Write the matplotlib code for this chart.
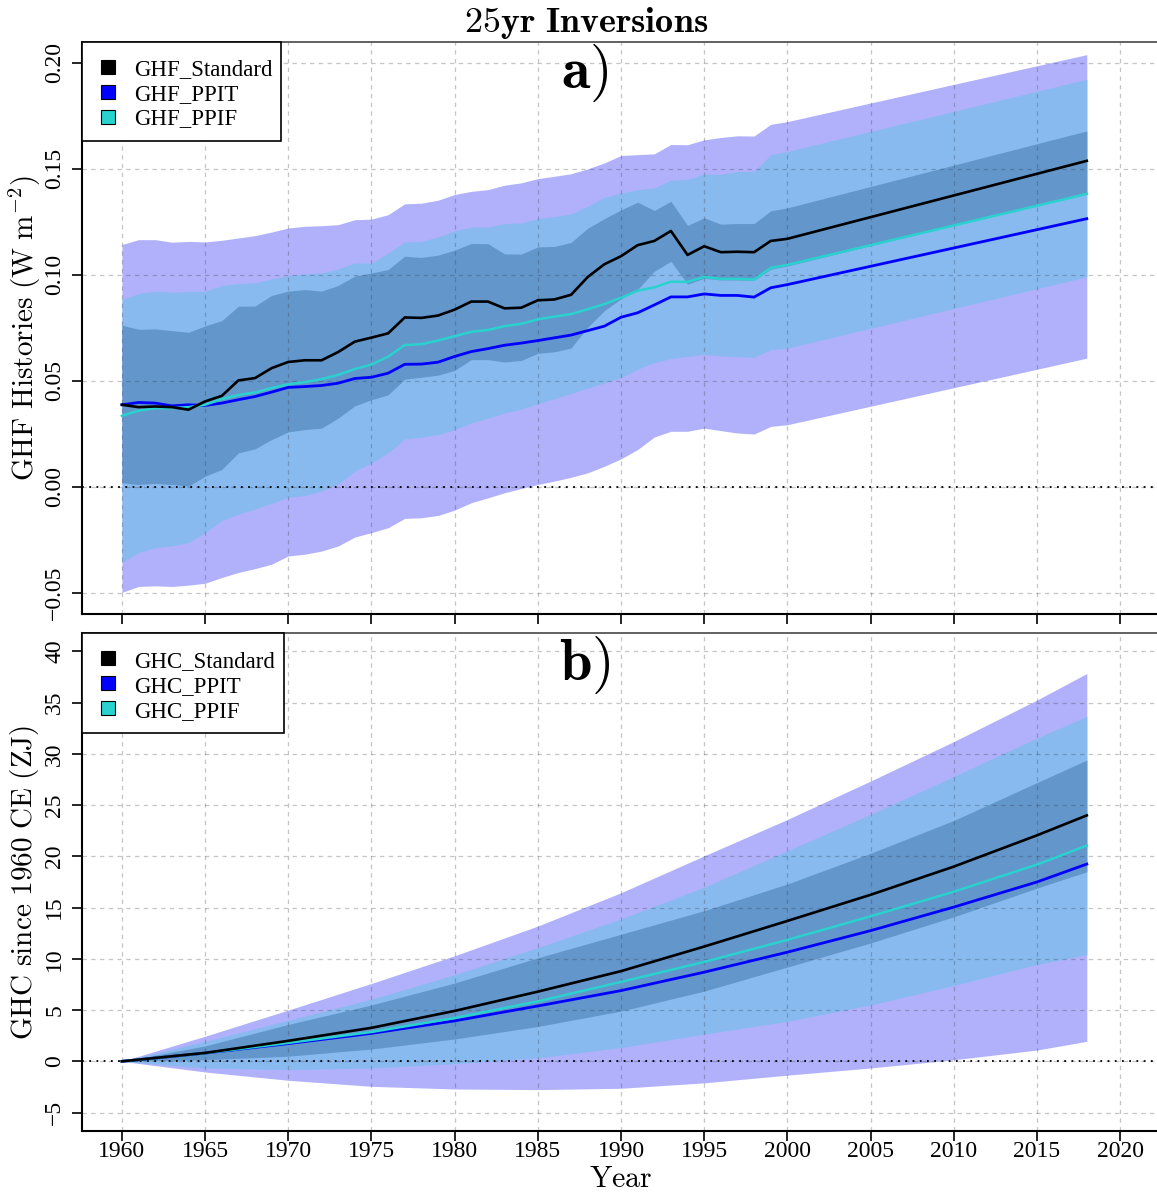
import matplotlib
matplotlib.use('Agg')
import matplotlib.pyplot as plt
from matplotlib.patches import Rectangle

plt.rcParams['mathtext.fontset'] = 'cm'
plt.rcParams['font.family'] = ['Liberation Serif', 'DejaVu Serif']

# ---------------- data: panel a (GHF histories, W m^-2) ----------------
years_a = list(range(1960, 2001)) + [2018]

ghf_standard = [0.0387, 0.0376, 0.0379, 0.0376, 0.0364, 0.0403, 0.0429, 0.0502, 0.0513, 0.0560,
                0.0589, 0.0597, 0.0597, 0.0636, 0.0685, 0.0704, 0.0724, 0.0799, 0.0797, 0.0808,
                0.0836, 0.0874, 0.0874, 0.0842, 0.0845, 0.0880, 0.0884, 0.0906, 0.0990, 0.1050,
                0.1088, 0.1140, 0.1160, 0.1207, 0.1094, 0.1135, 0.1107, 0.1109, 0.1107, 0.1160,
                0.1170, 0.1538]
ghf_ppif = [0.0335, 0.0359, 0.0371, 0.0371, 0.0376, 0.0387, 0.0414, 0.0433, 0.0445, 0.0466,
            0.0484, 0.0494, 0.0508, 0.0528, 0.0556, 0.0577, 0.0614, 0.0669, 0.0673, 0.0690,
            0.0711, 0.0731, 0.0740, 0.0758, 0.0769, 0.0790, 0.0803, 0.0815, 0.0838, 0.0862,
            0.0892, 0.0925, 0.0941, 0.0968, 0.0967, 0.0990, 0.0981, 0.0981, 0.0978, 0.1033,
            0.1047, 0.1382]
ghf_ppit = [0.0387, 0.0398, 0.0395, 0.0382, 0.0387, 0.0384, 0.0395, 0.0411, 0.0426, 0.0447,
            0.0469, 0.0473, 0.0478, 0.0489, 0.0511, 0.0517, 0.0536, 0.0578, 0.0579, 0.0588,
            0.0615, 0.0638, 0.0652, 0.0668, 0.0678, 0.0690, 0.0703, 0.0716, 0.0737, 0.0758,
            0.0800, 0.0821, 0.0858, 0.0896, 0.0896, 0.0910, 0.0903, 0.0903, 0.0895, 0.0939,
            0.0954, 0.1265]
ghf_outer_hi = [0.1143, 0.1166, 0.1166, 0.1154, 0.1158, 0.1155, 0.1163, 0.1174, 0.1185, 0.1202,
                0.1221, 0.1229, 0.1232, 0.1237, 0.1260, 0.1263, 0.1284, 0.1335, 0.1338, 0.1352,
                0.1379, 0.1394, 0.1402, 0.1423, 0.1434, 0.1454, 0.1465, 0.1477, 0.1500, 0.1528,
                0.1563, 0.1567, 0.1571, 0.1615, 0.1614, 0.1637, 0.1648, 0.1656, 0.1655, 0.1710,
                0.1723, 0.2039]
ghf_outer_lo = [-0.0498, -0.0470, -0.0467, -0.0470, -0.0464, -0.0455, -0.0428, -0.0404, -0.0386, -0.0365,
                -0.0326, -0.0318, -0.0303, -0.0279, -0.0237, -0.0216, -0.0193, -0.0149, -0.0146, -0.0135,
                -0.0110, -0.0075, -0.0052, -0.0028, -0.0008, 0.0011, 0.0027, 0.0045, 0.0066, 0.0097,
                0.0132, 0.0176, 0.0235, 0.0262, 0.0262, 0.0277, 0.0265, 0.0254, 0.0249, 0.0285,
                0.0293, 0.0607]
ghf_mid_hi = [0.0884, 0.0912, 0.0923, 0.0918, 0.0922, 0.0922, 0.0950, 0.0959, 0.0962, 0.0981,
              0.0997, 0.1005, 0.1009, 0.1028, 0.1056, 0.1056, 0.1103, 0.1155, 0.1158, 0.1179,
              0.1208, 0.1225, 0.1225, 0.1242, 0.1245, 0.1266, 0.1275, 0.1288, 0.1324, 0.1366,
              0.1386, 0.1402, 0.1410, 0.1447, 0.1450, 0.1476, 0.1474, 0.1488, 0.1488, 0.1567,
              0.1582, 0.1923]
ghf_mid_lo = [-0.0357, -0.0310, -0.0287, -0.0279, -0.0263, -0.0216, -0.0160, -0.0129, -0.0105, -0.0078,
              -0.0049, -0.0041, -0.0020, 0.0014, 0.0074, 0.0113, 0.0160, 0.0226, 0.0234, 0.0246,
              0.0270, 0.0301, 0.0324, 0.0348, 0.0367, 0.0392, 0.0416, 0.0440, 0.0465, 0.0490,
              0.0515, 0.0555, 0.0586, 0.0605, 0.0615, 0.0625, 0.0618, 0.0614, 0.0611, 0.0647,
              0.0654, 0.0991]
ghf_inner_hi = [0.0763, 0.0743, 0.0745, 0.0737, 0.0729, 0.0759, 0.0784, 0.0852, 0.0853, 0.0903,
                0.0923, 0.0931, 0.0923, 0.0950, 0.0994, 0.1009, 0.1025, 0.1088, 0.1082, 0.1093,
                0.1117, 0.1148, 0.1147, 0.1099, 0.1098, 0.1132, 0.1134, 0.1153, 0.1220, 0.1265,
                0.1306, 0.1343, 0.1304, 0.1347, 0.1233, 0.1269, 0.1239, 0.1242, 0.1242, 0.1302,
                0.1316, 0.1679]
ghf_inner_lo = [0.0019, 0.0011, 0.0016, 0.0011, 0.0003, 0.0050, 0.0082, 0.0160, 0.0179, 0.0223,
                0.0259, 0.0270, 0.0277, 0.0324, 0.0382, 0.0411, 0.0434, 0.0508, 0.0517, 0.0527,
                0.0549, 0.0600, 0.0600, 0.0589, 0.0596, 0.0630, 0.0637, 0.0655, 0.0753, 0.0831,
                0.0887, 0.0931, 0.1017, 0.1064, 0.0956, 0.0984, 0.0976, 0.0976, 0.0974, 0.1027,
                0.1042, 0.1390]

# ---------------- data: panel b (GHC since 1960, ZJ) ----------------
years_b = [1960, 1965, 1970, 1975, 1980, 1985, 1990, 1995, 2000, 2005, 2010, 2015, 2018]
ghc_standard = [0, 0.82, 2.00, 3.27, 4.92, 6.80, 8.80, 11.20, 13.70, 16.25, 19.00, 22.05, 24.00]
ghc_ppif = [0, 0.80, 1.80, 2.86, 4.23, 5.85, 7.75, 9.70, 11.85, 14.15, 16.55, 19.20, 21.05]
ghc_ppit = [0, 0.80, 1.73, 2.73, 3.95, 5.40, 6.90, 8.70, 10.65, 12.75, 15.05, 17.50, 19.25]
ghc_outer_hi = [0, 2.45, 5.00, 7.60, 10.30, 13.20, 16.45, 20.05, 23.60, 27.35, 31.20, 35.25, 37.85]
ghc_outer_lo = [0, -1.04, -1.85, -2.44, -2.70, -2.76, -2.63, -2.10, -1.35, -0.65, 0.15, 1.10, 1.95]
ghc_mid_hi = [0, 1.95, 4.00, 6.06, 8.46, 11.10, 13.90, 17.00, 20.55, 24.10, 27.80, 31.55, 33.65]
ghc_mid_lo = [0, -0.65, -0.81, -0.65, -0.23, 0.33, 1.35, 2.65, 3.90, 5.50, 7.40, 9.45, 10.42]
ghc_inner_hi = [0, 1.50, 3.60, 5.50, 7.64, 10.10, 12.40, 14.70, 17.30, 20.30, 23.50, 27.20, 29.40]
ghc_inner_lo = [0, 0.16, 0.50, 1.20, 2.18, 3.40, 4.90, 6.85, 9.20, 11.55, 14.10, 16.90, 18.50]

x_ticks = list(range(1960, 2021, 5))
yticks_a = [-0.05, 0.00, 0.05, 0.10, 0.15, 0.20]
yticklabels_a = ['\u22120.05', '0.00', '0.05', '0.10', '0.15', '0.20']
yticks_b = [-5, 0, 5, 10, 15, 20, 25, 30, 35, 40]
yticklabels_b = ['\u22125', '0', '5', '10', '15', '20', '25', '30', '35', '40']

legend_a = ['GHF_Standard', 'GHF_PPIT', 'GHF_PPIF']
legend_b = ['GHC_Standard', 'GHC_PPIT', 'GHC_PPIF']

# ---------------- style ----------------
C_OUTER = '#b1b1fb'
C_MID = '#88baf0'
C_INNER = '#6396cb'
C_BLACK = '#000000'
C_BLUE = '#0000ff'
C_CYAN = '#2ad2cf'

W, H = 1157, 1193
fig = plt.figure(figsize=(W / 100, H / 100), dpi=100)


def fx(px):
    return px / W


def fy(py):
    return 1 - py / H


axA = fig.add_axes([fx(82), fy(614), (1160 - 82) / W, (614 - 41.7) / H])
axB = fig.add_axes([fx(82), fy(1131), (1160 - 82) / W, (1131 - 633) / H])


def style_axes(ax, yticks, ylabels, ylim, show_xlabels):
    ax.set_xlim(1957.6, 2022.4)
    ax.set_ylim(*ylim)
    ax.set_xticks(x_ticks)
    ax.set_yticks(yticks)
    ax.set_yticklabels(ylabels, rotation=90, va='center')
    ax.tick_params(axis='both', direction='out', length=7, width=1.2, labelsize=17)
    ax.tick_params(axis='x', pad=0.5)
    ax.tick_params(axis='y', pad=5)
    if not show_xlabels:
        ax.tick_params(axis='x', labelbottom=False)
    ax.set_axisbelow(False)
    ax.grid(True, color='#303040', alpha=0.28, linestyle=(0, (3.5, 3.5)), linewidth=0.9)
    ax.axhline(0, color='black', linestyle=(0, (1, 3)), linewidth=1.3, zorder=2.6)
    ax.spines['right'].set_visible(False)
    ax.spines['top'].set_color('#555555')
    ax.spines['top'].set_linewidth(1.3)
    for s in ('left', 'bottom'):
        ax.spines[s].set_linewidth(1.5)
        ax.spines[s].set_color('black')


def draw_bands(ax, x, outer, mid, inner):
    ax.fill_between(x, outer[0], outer[1], color=C_OUTER, lw=0, zorder=1)
    ax.fill_between(x, mid[0], mid[1], color=C_MID, lw=0, zorder=1.1)
    ax.fill_between(x, inner[0], inner[1], color=C_INNER, lw=0, zorder=1.2)


# panel a
draw_bands(axA, years_a, (ghf_outer_lo, ghf_outer_hi), (ghf_mid_lo, ghf_mid_hi),
           (ghf_inner_lo, ghf_inner_hi))
axA.plot(years_a, ghf_ppit, color=C_BLUE, lw=2.0, zorder=3)
axA.plot(years_a, ghf_ppif, color=C_CYAN, lw=1.8, zorder=3.1)
axA.plot(years_a, ghf_standard, color=C_BLACK, lw=1.9, zorder=3.2)
style_axes(axA, yticks_a, yticklabels_a, (-0.06, 0.21), False)

# panel b
draw_bands(axB, years_b, (ghc_outer_lo, ghc_outer_hi), (ghc_mid_lo, ghc_mid_hi),
           (ghc_inner_lo, ghc_inner_hi))
axB.plot(years_b, ghc_standard, color=C_BLACK, lw=1.9, zorder=3.2)
axB.plot(years_b, ghc_ppit, color=C_BLUE, lw=2.0, zorder=3)
axB.plot(years_b, ghc_ppif, color=C_CYAN, lw=1.8, zorder=3.1)
style_axes(axB, yticks_b, yticklabels_b, (-6.8, 41.8), True)

# titles and labels
fig.text(fx(586), fy(32), r'$\mathbf{25yr\ Inversions}$', ha='center', va='baseline', fontsize=26)
fig.text(fx(585), fy(88), r'$\mathbf{a})$', ha='center', va='baseline', fontsize=42)
fig.text(fx(585), fy(680), r'$\mathbf{b})$', ha='center', va='baseline', fontsize=42)
fig.text(fx(621), fy(1187), r'$\mathrm{Year}$', ha='center', va='baseline', fontsize=21.5)
fig.text(fx(25), fy(328), r'$\mathrm{GHF\ Histories\ (W\ m^{-2})}$', rotation=90,
         ha='center', va='center', fontsize=21)
fig.text(fx(25), fy(882), r'$\mathrm{GHC\ since\ 1960\ CE\ (ZJ)}$', rotation=90,
         ha='center', va='center', fontsize=21)


def draw_legend(box, rows, labels):
    x0, y0, x1, y1 = box
    fig.patches.append(Rectangle((fx(x0), fy(y1)), (x1 - x0) / W, (y1 - y0) / H,
                                 transform=fig.transFigure, facecolor='white',
                                 edgecolor='black', lw=1.2, zorder=5))
    for (cy, base), lab, col in zip(rows, labels, [C_BLACK, C_BLUE, C_CYAN]):
        s = 14
        fig.patches.append(Rectangle((fx(107.5 - s / 2), fy(cy + s / 2)), s / W, s / H,
                                     transform=fig.transFigure, facecolor=col,
                                     edgecolor='black', lw=0.8, zorder=6))
        fig.text(fx(134), fy(base), lab, ha='left', va='baseline', fontsize=16.5, zorder=7)


draw_legend((82, 41.7, 281, 141), [(67, 75), (92, 100), (117, 124)], legend_a)
draw_legend((82, 633, 284, 733), [(658, 667), (683, 692), (708, 717)], legend_b)

fig.savefig('out.png', dpi=100)
